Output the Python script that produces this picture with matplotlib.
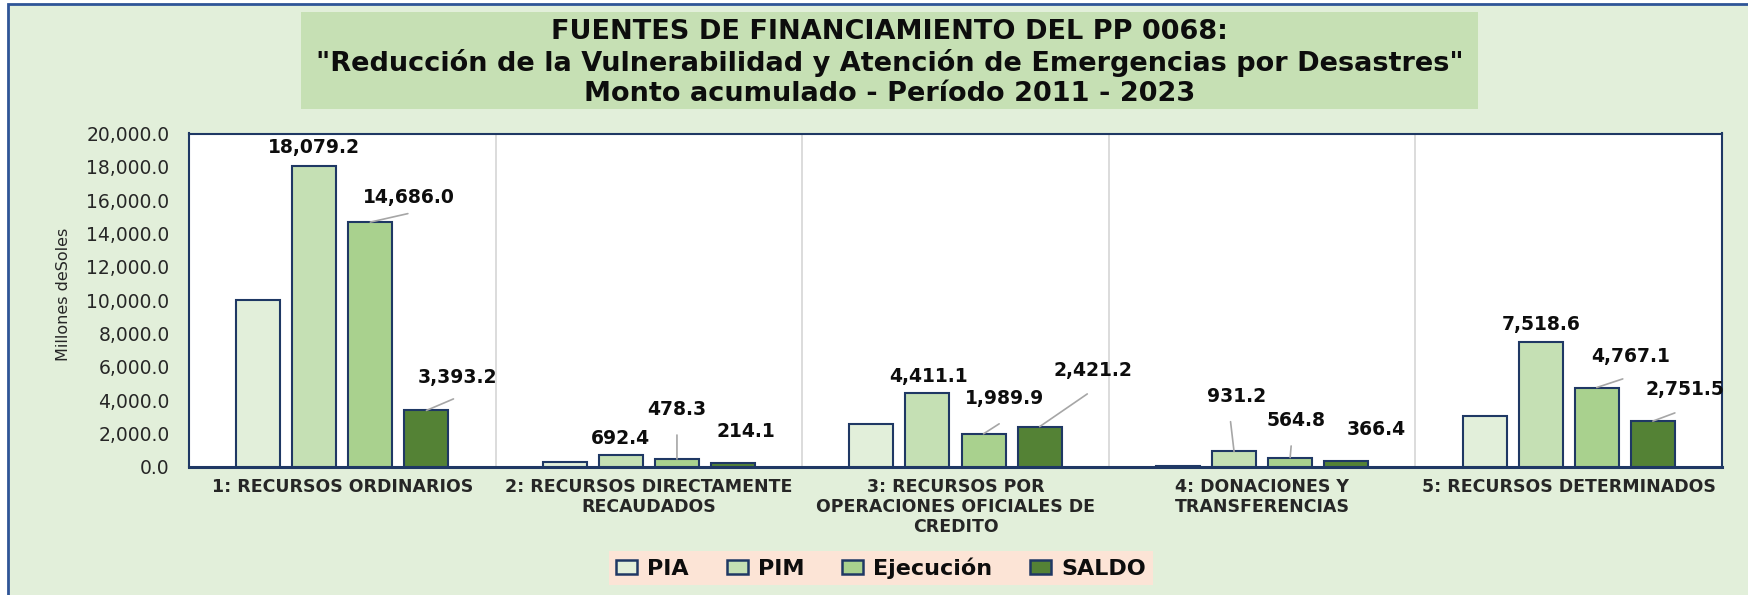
import matplotlib.pyplot as plt
from matplotlib.patches import Rectangle
import numpy as np

# --- datos (millones de soles) ---
CATEGORIAS = [
    "1: RECURSOS ORDINARIOS",
    "2: RECURSOS DIRECTAMENTE\nRECAUDADOS",
    "3: RECURSOS POR\nOPERACIONES OFICIALES DE\nCREDITO",
    "4: DONACIONES Y\nTRANSFERENCIAS",
    "5: RECURSOS DETERMINADOS",
]
SERIES = ["PIA", "PIM", "Ejecución", "SALDO"]
PIA = [9990.0, 290.0, 2560.0, 80.0, 3060.0]
PIM = [18079.2, 692.4, 4411.1, 931.2, 7518.6]
EJECUCION = [14686.0, 478.3, 1989.9, 564.8, 4767.1]
SALDO = [3393.2, 214.1, 2421.2, 366.4, 2751.5]
Y_TICKS = [0, 2000, 4000, 6000, 8000, 10000, 12000, 14000, 16000, 18000, 20000]

TITULO = ("FUENTES DE FINANCIAMIENTO DEL PP 0068:\n"
          "\"Reducción de la Vulnerabilidad y Atención de Emergencias por Desastres\"\n"
          "Monto acumulado - Período 2011 - 2023")

COLORES = ["#E2EFDA", "#C5E0B4", "#A9D18E", "#548235"]
AZUL = "#1F3864"
FONDO = "#E2EFDA"

# posicion de las etiquetas (pixeles, respecto al tope de la barra)
ETIQ_OFF = {
    1: [(0, 18), (0, 16.5), (1.5, 17), (3, 55), (1, 17)],
    2: [(38.5, 24.5), (0, 50), (21, 35), (6, 37), (34, 31)],
    3: [(30.5, 33), (13, 31.7), (53, 55.7), (30, 31), (32, 32)],
}
# fin de la linea guia (pixeles); None = sin linea
LINEA_OFF = {
    1: [None, None, None, (-3.5, 29.8), None],
    2: [(37.5, 8.5), (0, 24), (15.6, 10), (1, 11.6), (26, 8.6)],
    3: [(27, 11.5), None, (47.6, 32.7), None, (22, 8.2)],
}

W, H = 1749, 595
fig = plt.figure(figsize=(W / 100, H / 100), dpi=100, facecolor="white")

# fondo del grafico con borde
fig.add_artist(Rectangle((8 / W, -0.01), 1.0, (H - 4) / H + 0.01, transform=fig.transFigure,
                         facecolor=FONDO, edgecolor="#2F5597", lw=2, zorder=-10))
# caja del titulo
fig.add_artist(Rectangle((301 / W, 1 - 109 / H), (1478 - 301) / W, 97 / H,
                         transform=fig.transFigure, facecolor="#C6E0B4",
                         edgecolor="none", zorder=-5))
fig.text(889.5 / W, 1 - 63 / H, TITULO, ha="center", va="center", fontsize=19.5,
         fontweight="bold", color="#0D0D0D", linespacing=1.2)

ax = fig.add_axes([189 / W, 1 - 467 / H, (1722 - 189) / W, (467 - 133.5) / H])
ax.set_facecolor("white")

x = np.arange(len(CATEGORIAS))
ancho = 0.1436
paso = 0.183
valores = [PIA, PIM, EJECUCION, SALDO]

for j, (serie, vals) in enumerate(zip(SERIES, valores)):
    xs = x + (j - 1.5) * paso
    ax.bar(xs, vals, width=ancho, color=COLORES[j], edgecolor=AZUL, linewidth=1.5,
           label=serie, zorder=3)
    if j == 0:
        continue
    for i, (xi, v) in enumerate(zip(xs, vals)):
        lo = LINEA_OFF[j][i]
        if lo is not None:
            ax.annotate("", xy=(xi, v), xytext=lo, textcoords="offset pixels",
                        arrowprops=dict(arrowstyle="-", color="#A6A6A6", lw=1.2,
                                        shrinkA=0, shrinkB=0), zorder=4)
        ax.annotate(f"{v:,.1f}", xy=(xi, v), xytext=ETIQ_OFF[j][i],
                    textcoords="offset pixels", ha="center", va="center",
                    fontsize=13.5, fontweight="bold", color="#0D0D0D",
                    annotation_clip=False, zorder=5)

for b in [0.5, 1.5, 2.5, 3.5]:
    ax.axvline(b, color="#D9D9D9", lw=1.3, zorder=1)

ax.set_xlim(-0.5, 4.5)
ax.set_ylim(0, 20000)
ax.set_yticks(Y_TICKS)
ax.set_yticklabels([f"{t:,.1f}" for t in Y_TICKS], fontsize=13.5, color="#262626")
ax.set_xticks(x)
ax.set_xticklabels(CATEGORIAS, fontsize=12.5, fontweight="bold", color="#262626",
                   linespacing=1.15)
ax.tick_params(axis="y", length=0, pad=14)
ax.tick_params(axis="x", length=0, pad=8)

for lado in ["top", "right", "left"]:
    ax.spines[lado].set_color(AZUL)
    ax.spines[lado].set_linewidth(1.5)
ax.spines["bottom"].set_color(AZUL)
ax.spines["bottom"].set_linewidth(2.2)

fig.text(64 / W, 1 - 294 / H, "Millones deSoles", rotation=90, ha="center",
         va="center", fontsize=11.5, color="#262626")

handles = [Rectangle((0, 0), 1, 1, facecolor=c, edgecolor=AZUL, lw=1.8) for c in COLORES]
leg = fig.legend(handles, SERIES, loc="center", bbox_to_anchor=(881 / W, 1 - 568 / H),
                 ncol=4, frameon=True, fancybox=False, facecolor="#FCE4D6",
                 edgecolor="none", prop=dict(size=16, weight="bold"),
                 handlelength=0.95, handleheight=0.6, handletextpad=0.45,
                 columnspacing=1.7, borderpad=0.3, borderaxespad=0)
leg.get_frame().set_alpha(1)
for t in leg.get_texts():
    t.set_color("#0D0D0D")

fig.savefig("out.png", dpi=100, facecolor=fig.get_facecolor())
